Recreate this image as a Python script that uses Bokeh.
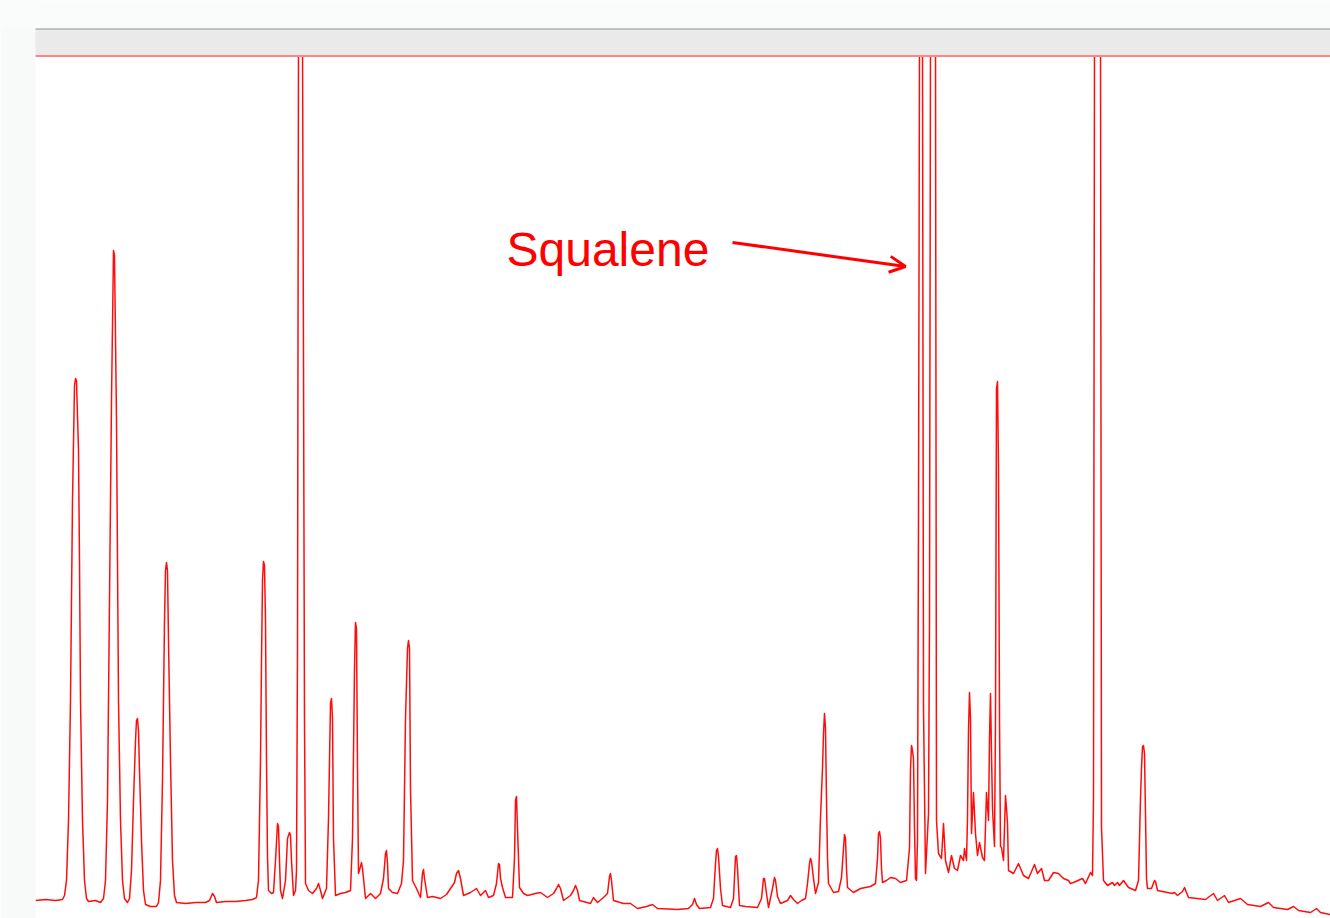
from bokeh.plotting import figure
from bokeh.models import Range1d, Arrow, OpenHead
from bokeh.core.properties import value
from bokeh.embed import file_html
from bokeh.resources import INLINE

# Chromatogram trace (retention position, detector intensity); saturated peaks given 880 (off-scale)
rt = [35, 45, 55, 62, 64, 66, 68, 70, 72, 74, 75, 76, 78, 79, 80, 82, 84, 86, 88, 95,
      100, 103, 105, 107, 109, 111, 113, 114, 116, 117, 118, 120, 122, 124, 127, 129, 131, 133, 135, 136,
      137, 138, 139, 141, 143, 145, 150, 156, 158, 160, 162, 164, 165, 166, 167, 168, 170, 172, 174, 176,
      185, 195, 205, 209, 212, 214, 216, 225, 235, 245, 252, 256, 258, 260, 261, 262, 263, 264, 265, 266,
      267, 268, 271, 273, 275, 277, 278, 279, 280, 282, 285, 287, 289, 290, 291, 293, 295, 296, 297, 298,
      302, 303, 304, 305, 308, 312, 316, 318, 320, 322, 326, 328, 330, 331, 332, 333, 335, 340, 345, 350,
      352, 354, 355, 356, 357, 358, 360, 361, 362, 365, 370, 375, 380, 383, 385, 386, 387, 388, 392, 397,
      401, 403, 405, 407, 408, 409, 410, 412, 416, 420, 422, 423, 424, 427, 432, 440, 446, 450, 454, 456,
      458, 460, 463, 470, 476, 480, 485, 488, 493, 496, 498, 499, 500, 502, 505, 512, 514, 515, 516, 517,
      519, 523, 527, 535, 540, 547, 553, 556, 558, 560, 563, 570, 573, 575, 577, 579, 590, 593, 597, 603,
      607, 609, 610, 611, 613, 623, 630, 637, 646, 652, 657, 677, 688, 692, 694, 696, 699, 710, 713, 715,
      716, 717, 718, 720, 722, 730, 733, 735, 736, 737, 739, 745, 757, 761, 763, 764, 766, 768, 772, 774,
      775, 777, 780, 787, 790, 793, 797, 801, 805, 807, 809, 810, 811, 813, 815, 818, 820, 822, 823, 824,
      825, 826, 827, 828, 833, 838, 841, 843, 844, 845, 846, 847, 853, 860, 870, 875, 877, 878, 879, 880,
      881, 882, 886, 890, 895, 900, 906, 909, 910, 911, 912, 913, 914, 915, 916, 917, 918, 919, 922, 923,
      925, 928, 929, 930, 935, 936, 938, 941, 943, 945, 948, 951, 954, 957, 960, 963, 964, 966, 967, 968,
      969, 970, 971, 973, 975, 977, 979, 982, 984, 986, 988, 989, 990, 991, 992, 994, 995, 996, 997, 998,
      999, 1000, 1001, 1003, 1005, 1006, 1007, 1008, 1013, 1018, 1023, 1028, 1034, 1037, 1041, 1044, 1048, 1053, 1058, 1063,
      1068, 1070, 1073, 1082, 1085, 1090, 1092, 1093, 1094, 1100, 1101, 1103, 1107, 1112, 1114, 1117, 1119, 1123, 1128, 1135,
      1138, 1140, 1141, 1142, 1143, 1144, 1145, 1146, 1147, 1151, 1154, 1155, 1157, 1172, 1174, 1177, 1182, 1184, 1186, 1188,
      1205, 1213, 1217, 1224, 1228, 1240, 1247, 1260, 1268, 1273, 1287, 1293, 1298, 1310, 1316, 1320, 1330]

intensity = [18, 19, 18, 19, 23, 38, 98, 218, 418, 533, 540, 538, 468, 358, 218, 98, 38, 20, 17, 18,
             16, 20, 38, 118, 318, 518, 668, 663, 498, 358, 218, 98, 38, 20, 16, 20, 48, 118, 178, 198,
             200, 188, 148, 78, 28, 14, 12, 12, 16, 38, 138, 298, 348, 356, 348, 278, 158, 58, 23, 16,
             15, 16, 16, 18, 25, 22, 16, 17, 17, 18, 19, 21, 38, 158, 258, 338, 357, 353, 298, 158,
             62, 28, 25, 26, 58, 95, 92, 58, 28, 20, 38, 80, 86, 83, 58, 23, 28, 48, 268, 880,
             880, 558, 200, 35, 28, 25, 30, 35, 28, 20, 30, 100, 215, 220, 200, 80, 23, 25, 26, 28,
             80, 250, 296, 290, 150, 45, 52, 56, 50, 20, 25, 20, 25, 40, 65, 68, 55, 30, 26, 25,
             35, 58, 200, 270, 278, 270, 130, 38, 30, 21, 45, 49, 40, 21, 22, 20, 24, 30, 36, 45,
             48, 40, 23, 26, 30, 23, 28, 21, 23, 35, 55, 54, 40, 31, 21, 21, 60, 118, 122, 90,
             31, 25, 23, 25, 26, 21, 25, 30, 34, 30, 18, 23, 28, 33, 28, 18, 15, 21, 16, 21,
             25, 42, 45, 38, 18, 15, 15, 10, 12, 14, 10, 9, 10, 14, 20, 14, 10, 11, 20, 55,
             68, 70, 62, 30, 13, 11, 20, 62, 63, 50, 13, 12, 11, 20, 40, 40, 25, 11, 30, 41,
             38, 22, 15, 18, 23, 19, 15, 18, 20, 35, 55, 60, 57, 40, 25, 36, 101, 150, 185, 205,
             190, 118, 60, 35, 26, 27, 41, 70, 84, 80, 50, 31, 26, 30, 32, 35, 60, 85, 87, 80,
             50, 36, 38, 41, 40, 36, 38, 70, 150, 173, 168, 160, 90, 40, 38, 80, 400, 880, 880, 211,
             45, 105, 300, 880, 880, 98, 65, 60, 95, 58, 46, 63, 50, 48, 63, 58, 70, 58, 100, 188,
             226, 200, 85, 126, 85, 63, 76, 61, 58, 126, 98, 180, 225, 165, 110, 72, 200, 530, 537, 450,
             200, 72, 71, 58, 123, 110, 95, 48, 45, 55, 43, 40, 54, 45, 50, 38, 38, 46, 45, 40,
             38, 35, 36, 40, 35, 46, 43, 120, 880, 880, 91, 38, 33, 36, 33, 36, 33, 38, 31, 28,
             38, 120, 150, 172, 173, 165, 105, 40, 30, 30, 38, 37, 28, 25, 26, 23, 27, 31, 26, 21,
             19, 25, 18, 23, 16, 20, 14, 12, 16, 11, 9, 12, 8, 6, 10, 6, 4]

label_text = "Squalene"

p = figure(width=1330, height=918, output_backend="svg", toolbar_location=None,
           x_axis_type=None, y_axis_type=None,
           x_range=Range1d(0, 1330), y_range=Range1d(0, 918),
           min_border=0, min_border_left=0, min_border_right=0,
           min_border_top=0, min_border_bottom=0)
p.grid.visible = False
p.outline_line_color = None
p.background_fill_color = "white"
p.border_fill_color = "white"

# trace
p.line(rt, intensity, line_color="#ff0d0d", line_width=1.5, line_join="round")

# window chrome: left strip, header, gray bar, borders
p.quad(left=[-10], right=[35], bottom=[-10], top=[930], fill_color="#f8fafa", line_color=None)
p.quad(left=[-10], right=[1340], bottom=[890], top=[930], fill_color="#fafbfb", line_color=None)
p.quad(left=[35], right=[1340], bottom=[862.5], top=[889.5], fill_color="#eaeaea", line_color=None)
p.segment(x0=[35], y0=[889.5], x1=[1340], y1=[889.5], line_color="#b0b0b0", line_width=1.5)
p.segment(x0=[35], y0=[862.5], x1=[1340], y1=[862.5], line_color="#ff8585", line_width=2)

# annotation
p.text(x=[506], y=[669], text=[label_text], text_font=value("Liberation Sans"),
       text_font_size="48px", text_color="#ff0000", text_baseline="alphabetic",
       text_align="left")
p.add_layout(Arrow(end=OpenHead(size=16, line_color="#ff0000", line_width=3),
                   x_start=732, y_start=676, x_end=905, y_end=652,
                   line_color="#ff0000", line_width=3))

open("out.html", "w").write(file_html(p, INLINE))
